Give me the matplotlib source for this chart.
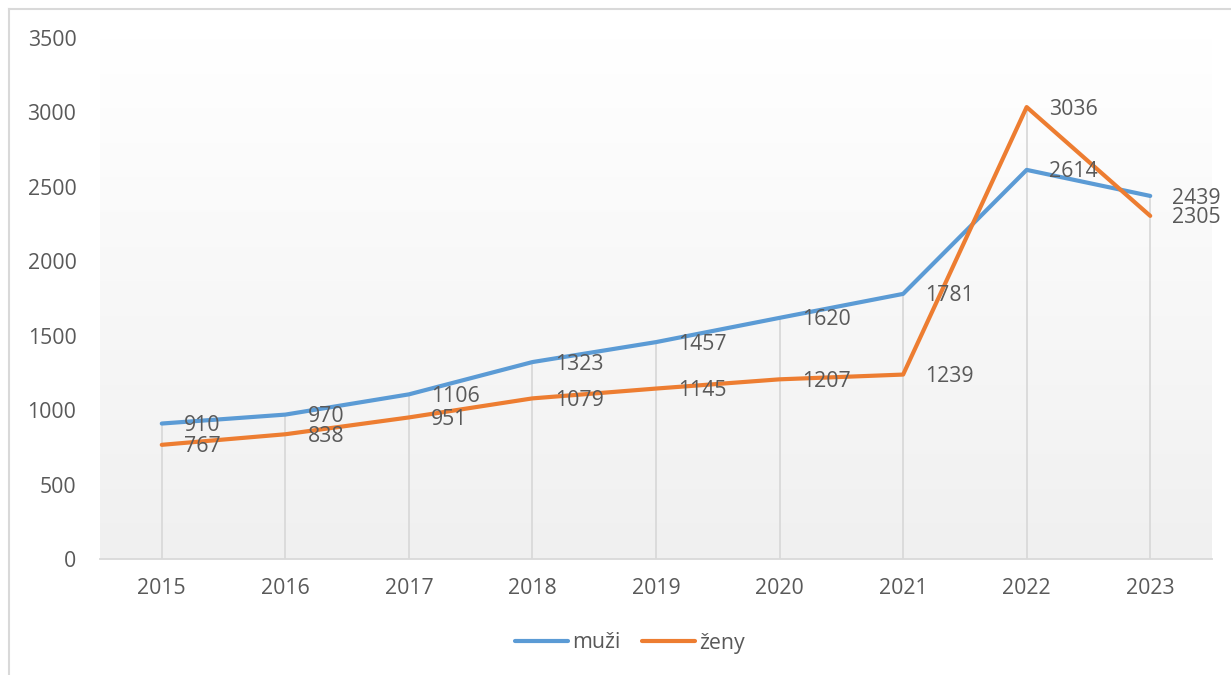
import numpy as np
import matplotlib.pyplot as plt
from matplotlib.lines import Line2D
from matplotlib.colors import LinearSegmentedColormap

roky = ['2015', '2016', '2017', '2018', '2019', '2020', '2021', '2022', '2023']
muzi = [910, 970, 1106, 1323, 1457, 1620, 1781, 2614, 2439]
zeny = [767, 838, 951, 1079, 1145, 1207, 1239, 3036, 2305]

plt.rcParams['font.family'] = ['Open Sans', 'DejaVu Sans']

modra = '#5B9BD5'
oranzova = '#ED7D31'
seda_text = '#595959'
vel = 15.3

fig = plt.figure(figsize=(12.31, 6.75), dpi=100)
ax = fig.add_axes([100 / 1231, 1 - 559 / 675, 1112 / 1231, 521 / 675])

x = np.arange(len(roky))

# gradient pozadi: bila nahore, svetle seda dole
cm = LinearSegmentedColormap.from_list('pozadi', ['#f0f0f0', '#ffffff'])
grad = np.linspace(1.0, 0.0, 256).reshape(-1, 1)
ax.imshow(grad, extent=(-0.5, 8.5, 0, 3500), aspect='auto', cmap=cm,
          vmin=0, vmax=1, origin='upper', zorder=0)

# svisle spojnice
for i in x:
    ax.plot([i, i], [0, max(muzi[i], zeny[i])], color='#d9d9d9', lw=1.3, zorder=1)

ax.plot(x, muzi, color=modra, lw=3, solid_capstyle='round', zorder=3, label='muži')
ax.plot(x, zeny, color=oranzova, lw=3, solid_capstyle='round', zorder=3, label='ženy')

for i in x:
    ax.annotate(str(muzi[i]), (i, muzi[i]), xytext=(16, -1.5), textcoords='offset points',
                ha='left', va='center', fontsize=vel, color=seda_text, zorder=4)
    ax.annotate(str(zeny[i]), (i, zeny[i]), xytext=(16, -1.5), textcoords='offset points',
                ha='left', va='center', fontsize=vel, color=seda_text, zorder=4)

ax.set_xlim(-0.5, 8.5)
ax.set_ylim(0, 3500)
ax.set_yticks(range(0, 3501, 500))
ax.set_xticks(x)
ax.set_xticklabels(roky)
ax.tick_params(axis='y', length=0, pad=17, labelsize=vel, labelcolor=seda_text)
ax.tick_params(axis='x', length=0, pad=14, labelsize=vel, labelcolor=seda_text)
for s in ['top', 'right', 'left']:
    ax.spines[s].set_visible(False)
ax.spines['bottom'].set_color('#d9d9d9')
ax.spines['bottom'].set_linewidth(1.3)

handles = [Line2D([], [], color=modra, lw=3, solid_capstyle='round'),
           Line2D([], [], color=oranzova, lw=3, solid_capstyle='round')]
fig.legend(handles, ['muži', 'ženy'], loc='center', bbox_to_anchor=(630 / 1231, 1 - 643 / 675),
           ncol=2, frameon=False, fontsize=vel, labelcolor=seda_text,
           handlelength=2.5, handletextpad=0.2, columnspacing=1.0)

# ramecek grafu
fig.add_artist(plt.Line2D([9 / 1231, 9 / 1231], [0, 1 - 9 / 675], color='#d9d9d9',
                          lw=1.5, transform=fig.transFigure))
fig.add_artist(plt.Line2D([9 / 1231, 1], [1 - 9 / 675, 1 - 9 / 675], color='#d9d9d9',
                          lw=1.5, transform=fig.transFigure))

plt.savefig('out.png', dpi=100)
